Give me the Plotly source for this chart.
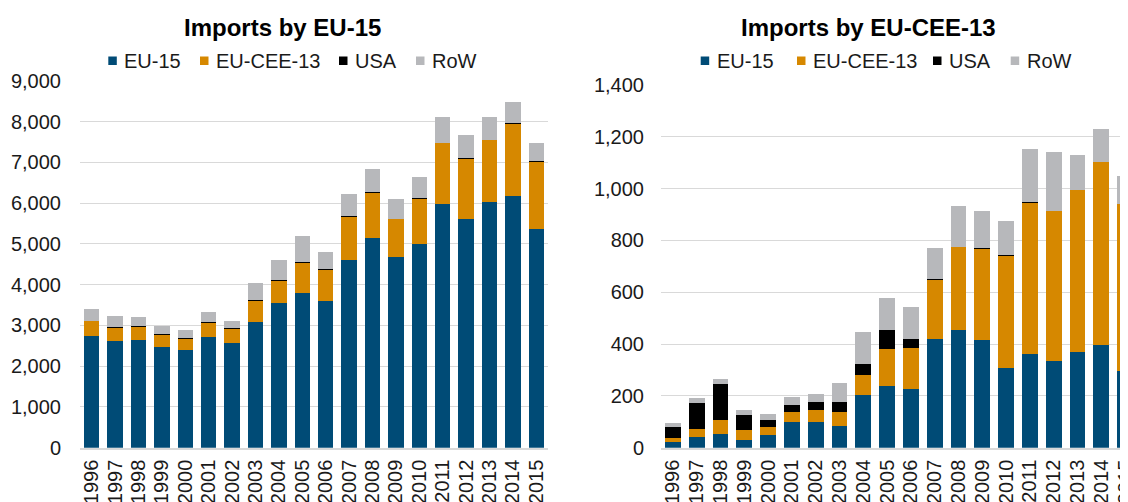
import plotly.graph_objects as go

years = [str(y) for y in range(1996, 2016)]
series_names = ["EU-15", "EU-CEE-13", "USA", "RoW"]
series_colors = ["#004B76", "#D68800", "#000000", "#B7B8BB"]

# Imports by EU-15 (stack segments)
a_eu15 = [2740, 2620, 2650, 2475, 2400, 2715, 2575, 3090, 3550, 3790,
          3605, 4615, 5140, 4670, 5010, 5985, 5615, 6040, 6180, 5370]
a_cee13 = [370, 330, 335, 315, 290, 365, 345, 515, 555, 750,
           765, 1055, 1135, 945, 1110, 1495, 1490, 1515, 1775, 1660]
a_usa = [8, 8, 8, 8, 8, 8, 8, 8, 8, 8,
         8, 8, 8, 8, 8, 8, 8, 8, 8, 8]
a_row = [277, 282, 222, 192, 187, 232, 187, 427, 487, 652,
         427, 542, 557, 492, 512, 622, 552, 542, 517, 447]

# Imports by EU-CEE-13 (stack segments)
b_eu15 = [21, 43, 53, 30, 49, 99, 99, 84, 205, 237,
          228, 419, 454, 417, 308, 363, 336, 370, 397, 297]
b_cee13 = [18, 29, 55, 40, 31, 38, 45, 53, 76, 144,
           156, 229, 321, 353, 433, 585, 578, 625, 706, 644]
b_usa = [41, 101, 138, 57, 27, 27, 31, 39, 43, 73,
         35, 1.5, 1.5, 1.5, 1.5, 1.5, 1.5, 1.5, 1.5, 1.5]
b_row = [14, 18, 20, 20, 23, 32, 34, 73, 124, 123,
         125, 122, 156, 142, 132, 204, 227, 135, 126, 107]

left_series = [a_eu15, a_cee13, a_usa, a_row]
right_series = [b_eu15, b_cee13, b_usa, b_row]
titles = ["Imports by EU-15", "Imports by EU-CEE-13"]

# the page body adds an 8px offset; the figure is drawn a bit larger than the
# window so the right panel runs past the window edge like the reference
OFF = 8
W, H = 1140, 502
FONT = "Liberation Sans, Arial, sans-serif"
TXT = "#1a1a1a"
GRID = "#D9D9D9"

fig = go.Figure()
for vals, name, col in zip(left_series, series_names, series_colors):
    fig.add_trace(go.Bar(x=years, y=vals, name=name, marker_color=col,
                         marker_line_width=0, width=0.66,
                         xaxis="x", yaxis="y", showlegend=False))
for vals, name, col in zip(right_series, series_names, series_colors):
    fig.add_trace(go.Bar(x=years, y=vals, name=name, marker_color=col,
                         marker_line_width=0, width=0.66,
                         xaxis="x2", yaxis="y2", showlegend=False))

def px_x(p):
    return (p - OFF) / W

def px_y(p):
    return 1 - (p - OFF) / H

xcommon = dict(type="category", tickangle=-90, showgrid=False, showline=True,
               linecolor=GRID, linewidth=2, ticks="", automargin=False,
               tickmode="linear", tick0=0, dtick=1, ticklabelstandoff=2,
               tickfont=dict(family=FONT, size=20, color=TXT), fixedrange=True)
ycommon = dict(showgrid=True, gridcolor=GRID, gridwidth=1.4, zeroline=False,
               showline=False, ticks="", tickformat=",", automargin=False,
               tickfont=dict(family=FONT, size=20, color=TXT), fixedrange=True)

fig.update_layout(
    width=W, height=H, autosize=False,
    margin=dict(l=0, r=0, t=0, b=0, pad=0),
    paper_bgcolor="white", plot_bgcolor="white",
    barmode="stack",
    font=dict(family=FONT, color=TXT),
    xaxis=dict(domain=[px_x(80), px_x(548)], anchor="y", range=[-0.5, 19.5], **xcommon),
    xaxis2=dict(domain=[px_x(661), px_x(1137)], anchor="y2", range=[-0.5, 19.5], **xcommon),
    yaxis=dict(domain=[px_y(447.7), px_y(81)], anchor="x", range=[0, 9000], dtick=1000,
               ticklabelstandoff=18, **ycommon),
    yaxis2=dict(domain=[px_y(447.7), px_y(85)], anchor="x2", range=[0, 1400], dtick=200,
                ticklabelstandoff=16, **ycommon),
)

annotations = []
shapes = []
# titles
for t, cx in zip(titles, [282.5, 868]):
    annotations.append(dict(text="<b>%s</b>" % t, x=px_x(cx), y=px_y(28), xref="paper", yref="paper",
                            xanchor="center", yanchor="middle", showarrow=False,
                            font=dict(family=FONT, size=24, color="#000000")))
# custom legends
legend_sq_x = [[108.3, 200, 339, 416], [700.7, 797, 933, 1010.7]]
for row in legend_sq_x:
    for sx, name, col in zip(row, series_names, series_colors):
        shapes.append(dict(type="rect", xref="paper", yref="paper",
                           x0=px_x(sx), x1=px_x(sx + 8.5), y0=px_y(65), y1=px_y(56.5),
                           fillcolor=col, line=dict(width=0)))
        annotations.append(dict(text=name, x=px_x(sx + 14), y=px_y(61), xref="paper", yref="paper",
                                xanchor="left", yanchor="middle", showarrow=False,
                                font=dict(family=FONT, size=20, color=TXT)))
fig.update_layout(annotations=annotations, shapes=shapes)

fig.write_html("out.html")
